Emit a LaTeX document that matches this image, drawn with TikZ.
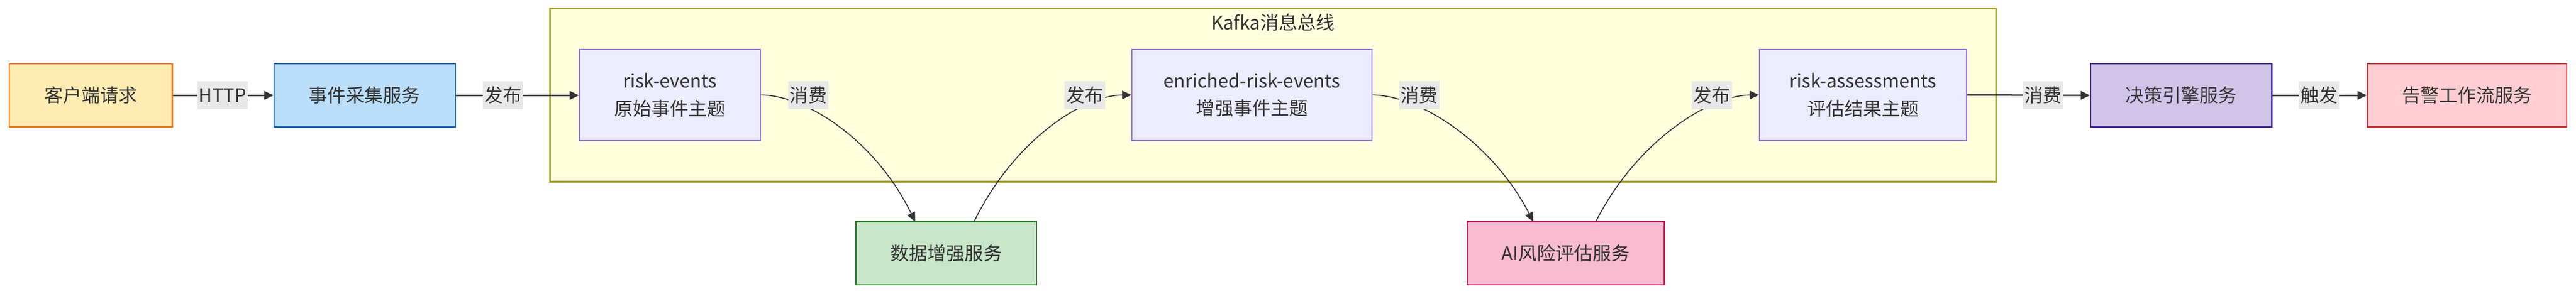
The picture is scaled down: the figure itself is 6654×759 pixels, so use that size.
\documentclass[tikz,border=0pt]{standalone}
\usepackage{fontspec}
\setmainfont{Noto Sans CJK SC}
\usetikzlibrary{arrows.meta}
\definecolor{txt}{HTML}{333333}
\tikzset{
  box/.style={draw, line width=3pt, inner sep=0pt, text=txt, align=center, font=\fontsize{48}{71}\selectfont},
  lbl/.style={fill=black!9, inner sep=0pt, minimum height=72pt, text=txt, font=\fontsize{48}{58}\selectfont, inner xsep=4pt},
  straight/.style={draw=txt, line width=4pt, -{Triangle[length=24pt,width=22pt]}},
  curvy/.style={draw=txt, line width=2.5pt, -{Triangle[length=24pt,width=22pt]}},
}
\begin{document}
\begin{tikzpicture}[x=1pt,y=-1pt]
\useasboundingbox (0,0) rectangle (6654,759);
\fill[white] (0,0) rectangle (6654,759);
\node[draw=olive!70!yellow!80!black, fill={rgb,255:red,255;green,255;blue,222}, line width=3pt, minimum width=3734pt, minimum height=446pt, inner sep=0pt] (kafka) at (3288,246) {};
\draw[draw={rgb,255:red,170;green,170;blue,51}, line width=3pt] (kafka.north west) rectangle (kafka.south east);
\node[text=txt, font=\fontsize{48}{58}\selectfont] (ktitle) at (3288,58) {Kafka消息总线};

\node[box, draw={rgb,255:red,255;green,111;blue,0}, fill={rgb,255:red,255;green,236;blue,179}, minimum width=421pt, minimum height=163pt] (client) at (234.5,246.5) {客户端请求};
\node[box, draw={rgb,255:red,21;green,101;blue,192}, fill={rgb,255:red,187;green,222;blue,251}, minimum width=468pt, minimum height=163pt] (collect) at (942,246.5) {事件采集服务};
\node[box, draw={rgb,255:red,147;green,112;blue,219}, fill={rgb,255:red,236;green,236;blue,255}, minimum width=467pt, minimum height=235pt] (re) at (1730.5,245.5) {risk-events\\原始事件主题};
\node[box, draw={rgb,255:red,46;green,125;blue,50}, fill={rgb,255:red,200;green,230;blue,201}, minimum width=467pt, minimum height=163pt] (enrich) at (2444.5,654.5) {数据增强服务};
\node[box, draw={rgb,255:red,147;green,112;blue,219}, fill={rgb,255:red,236;green,236;blue,255}, minimum width=620pt, minimum height=235pt] (ere) at (3234,245.5) {enriched-risk-events\\增强事件主题};
\node[box, draw={rgb,255:red,194;green,24;blue,91}, fill={rgb,255:red,248;green,187;blue,208}, minimum width=509pt, minimum height=163pt] (ai) at (4044.5,654.5) {AI风险评估服务};
\node[box, draw={rgb,255:red,147;green,112;blue,219}, fill={rgb,255:red,236;green,236;blue,255}, minimum width=535pt, minimum height=235pt] (ra) at (4812.5,245.5) {risk-assessments\\评估结果主题};
\node[box, draw={rgb,255:red,69;green,39;blue,160}, fill={rgb,255:red,209;green,196;blue,233}, minimum width=468pt, minimum height=163pt] (decide) at (5634,246.5) {决策引擎服务};
\node[box, draw={rgb,255:red,211;green,47;blue,47}, fill={rgb,255:red,255;green,205;blue,210}, minimum width=515pt, minimum height=163pt] (alert) at (6372.5,246.5) {告警工作流服务};

\draw[straight] (client.east) -- (collect.west);
\draw[straight] (collect.east) -- (re.west |- collect.east);
\coordinate (e1) at (2364,573);
\coordinate (s2) at (2516,573);
\coordinate (e3) at (3961,573);
\coordinate (s4) at (4122,573);
\draw[curvy] (re.east) .. controls (2080,246) and (2260,360) .. (e1);
\draw[curvy] (s2) .. controls (2620,360) and (2800,246) .. (ere.west);
\draw[curvy] (ere.east) .. controls (3660,246) and (3850,360) .. (e3);
\draw[curvy] (s4) .. controls (4230,360) and (4420,246) .. (ra.west);
\draw[straight] (ra.east) -- (decide.west);
\draw[straight] (decide.east) -- (alert.west);

\node[lbl] (l1) at (575,246) {HTTP};
\node[lbl] (l2) at (1299,246) {发布};
\node[lbl] (l3) at (2088,246) {消费};
\node[lbl] (l4) at (2802,246) {发布};
\node[lbl] (l5) at (3666,246) {消费};
\node[lbl] (l6) at (4422,246) {发布};
\node[lbl] (l7) at (5277,246) {消费};
\node[lbl] (l8) at (5990,246) {触发};
\end{tikzpicture}
\end{document}
